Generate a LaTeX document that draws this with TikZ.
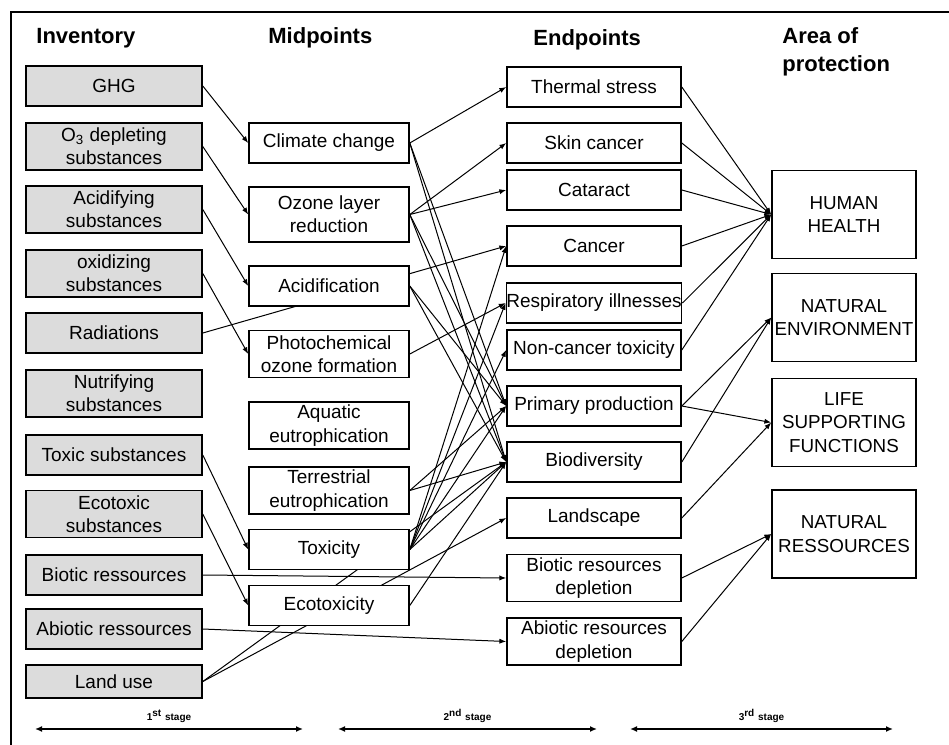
\documentclass[tikz,border=0pt]{standalone}
\usepackage{fontspec}
\setmainfont{Liberation Sans}
\usepackage{tikz}
\usetikzlibrary{arrows.meta, backgrounds}
\definecolor{invgray}{HTML}{DCDCDC}

\begin{document}
\begin{tikzpicture}[x=0.5pt, y=-0.5pt,
    every node/.style={font=\fontsize{9.5}{11.6}\selectfont},
    inv/.style={rectangle, draw=black, fill=invgray, line width=0.8pt, minimum width=88pt, minimum height=20pt, inner sep=1pt, align=center},
    mid/.style={rectangle, draw=black, fill=white, line width=0.8pt, minimum width=80pt, minimum height=20pt, inner sep=1pt, align=center},
    endp/.style={rectangle, draw=black, fill=white, line width=0.8pt, minimum width=87pt, minimum height=20pt, inner sep=1pt, align=center},
    area/.style={rectangle, draw=black, fill=white, line width=0.8pt, minimum width=72pt, minimum height=44pt, inner sep=0.5pt, align=center, font=\fontsize{9.4}{11.7}\selectfont},
    tall/.style={minimum height=23.5pt},
    head/.style={font=\fontsize{11}{14}\selectfont\bfseries, inner sep=0pt},
    arrow/.style={line width=0.5pt, -{Latex[length=3.4pt, width=2.6pt]}},
    stage/.style={line width=0.9pt, {Latex[length=3.5pt, width=3pt]}-{Latex[length=3.5pt, width=3pt]}},
    stagelabel/.style={font=\fontsize{5}{6}\selectfont\bfseries, inner sep=1pt}
]
\useasboundingbox (0,0) rectangle (949,745);

% frame
\draw[line width=0.9pt] (949,12) -- (11,12) -- (11,745);

% column titles
\node[head, anchor=west] (hinv) at (36,38) {Inventory};
\node[head, anchor=west] (hmid) at (268,38) {Midpoints};
\node[head, anchor=west] (hend) at (533,40) {Endpoints};
\node[head, anchor=north west, align=left] (harea) at (782,27) {Area of\\protection};

% Inventory
\node[inv] (ghg) at (114,86) {GHG};
\node[inv, tall] (ozdep) at (114,146.5) {O\textsubscript{3} depleting\\substances};
\node[inv, tall] (acidsub) at (114,209.5) {Acidifying\\substances};
\node[inv, tall] (oxsub) at (114,273.5) {oxidizing\\substances};
\node[inv] (rad) at (114,333) {Radiations};
\node[inv, tall] (nutsub) at (114,393.5) {Nutrifying\\substances};
\node[inv] (toxsub) at (114,455) {Toxic substances};
\node[inv, tall] (ecotoxsub) at (114,514) {Ecotoxic\\substances};
\node[inv] (bioticres) at (114,575) {Biotic ressources};
\node[inv] (abioticres) at (114,629) {Abiotic ressources};
\node[inv, minimum height=16.5pt] (landuse) at (114,681.5) {Land use};

% Midpoints
\node[mid] (climate) at (329,143) {Climate change};
\node[mid, minimum height=27.5pt] (ozone) at (329,214.5) {Ozone layer\\reduction};
\node[mid] (acid) at (329,286) {Acidification};
\node[mid, tall] (photo) at (329,354) {Photochemical\\ozone formation};
\node[mid, tall] (aquatic) at (329,425.5) {Aquatic\\eutrophication};
\node[mid, tall] (terr) at (329,490.5) {Terrestrial\\eutrophication};
\node[mid] (toxicity) at (329,549.5) {Toxicity};
\node[mid] (ecotox) at (329,605.5) {Ecotoxicity};

% Endpoints
\node[endp] (thermal) at (594,87) {Thermal stress};
\node[endp] (skin) at (594,143) {Skin cancer};
\node[endp] (cataract) at (594,190) {Cataract};
\node[endp] (cancer) at (594,246) {Cancer};
\node[endp, inner xsep=0pt] (resp) at (594,303) {Respiratory illnesses};
\node[endp] (noncancer) at (594,350) {Non-cancer toxicity};
\node[endp] (primprod) at (594,406) {Primary production};
\node[endp] (biodiv) at (594,462) {Biodiversity};
\node[endp] (landscape) at (594,518) {Landscape};
\node[endp, tall] (bioticdep) at (594,578) {Biotic resources\\depletion};
\node[endp, tall] (abioticdep) at (594,641.5) {Abiotic resources\\depletion};

% Areas of protection
\node[area] (health) at (844,214.5) {HUMAN\\HEALTH};
\node[area] (natenv) at (844,317.5) {NATURAL\\ENVIRONMENT};
\node[area] (lifesup) at (844,422.5) {LIFE\\SUPPORTING\\FUNCTIONS};
\node[area] (natres) at (844,534) {NATURAL\\RESSOURCES};

\begin{pgfonlayer}{background}
% inventory to midpoints
\draw[arrow] (ghg.east) -- (climate.west);
\draw[arrow] (ozdep.east) -- (ozone.west);
\draw[arrow] (acidsub.east) -- (acid.west);
\draw[arrow] (oxsub.east) -- (photo.west);
\draw[arrow] (toxsub.east) -- (toxicity.west);
\draw[arrow] (ecotoxsub.east) -- (ecotox.west);

% inventory straight to endpoints
\draw[arrow] (rad.east) -- (cancer.west);
\draw[arrow] (bioticres.east) -- (bioticdep.west);
\draw[arrow] (abioticres.east) -- (abioticdep.west);
\draw[arrow] (landuse.east) -- (biodiv.west);
\draw[arrow] (landuse.east) -- (landscape.west);

% midpoints to endpoints
\draw[arrow] (climate.east) -- (thermal.west);
\draw[arrow] (climate.east) -- (primprod.west);
\draw[arrow] (climate.east) -- (biodiv.west);
\draw[arrow] (ozone.east) -- (skin.west);
\draw[arrow] (ozone.east) -- (cataract.west);
\draw[arrow] (ozone.east) -- (primprod.west);
\draw[arrow] (ozone.east) -- (biodiv.west);
\draw[arrow] (acid.east) -- (primprod.west);
\draw[arrow] (acid.east) -- (biodiv.west);
\draw[arrow] (photo.east) -- (resp.west);
\draw[arrow] (terr.east) -- (primprod.west);
\draw[arrow] (terr.east) -- (biodiv.west);
\draw[arrow] (toxicity.east) -- (cancer.west);
\draw[arrow] (toxicity.east) -- (resp.west);
\draw[arrow] (toxicity.east) -- (noncancer.west);
\draw[arrow] (toxicity.east) -- (primprod.west);
\draw[arrow] (toxicity.east) -- (biodiv.west);
\draw[arrow] (ecotox.east) -- (biodiv.west);

% endpoints to areas of protection
\draw[arrow] (thermal.east) -- (health.west);
\draw[arrow] (skin.east) -- (health.west);
\draw[arrow] (cataract.east) -- (health.west);
\draw[arrow] (cancer.east) -- (health.west);
\draw[arrow] (resp.east) -- (health.west);
\draw[arrow] (noncancer.east) -- (health.west);
\draw[arrow] (primprod.east) -- (natenv.west);
\draw[arrow] (biodiv.east) -- (natenv.west);
\draw[arrow] (primprod.east) -- (lifesup.west);
\draw[arrow] (landscape.east) -- (lifesup.west);
\draw[arrow] (bioticdep.east) -- (natres.west);
\draw[arrow] (abioticdep.east) -- (natres.west);
\end{pgfonlayer}

% stages
\coordinate (s1a) at (35,729);
\coordinate (s1b) at (303,729);
\coordinate (s2a) at (338,729);
\coordinate (s2b) at (597,729);
\coordinate (s3a) at (630,729);
\coordinate (s3b) at (893,729);
\draw[stage] (s1a) -- (s1b) node[stagelabel, midway, above=1.5pt] {1\textsuperscript{\tiny st} stage};
\draw[stage] (s2a) -- (s2b) node[stagelabel, midway, above=1.5pt] {2\textsuperscript{\tiny nd} stage};
\draw[stage] (s3a) -- (s3b) node[stagelabel, midway, above=1.5pt] {3\textsuperscript{\tiny rd} stage};

\end{tikzpicture}
\end{document}
